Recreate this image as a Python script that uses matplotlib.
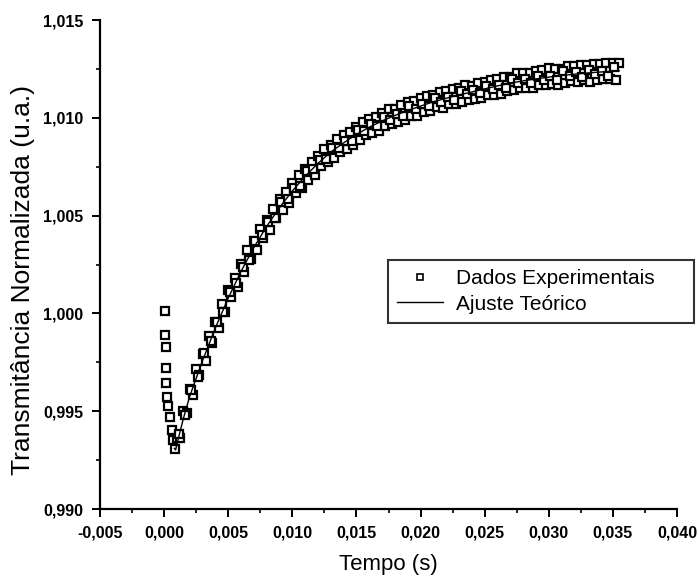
import numpy as np
import matplotlib
matplotlib.use("Agg")
import matplotlib.pyplot as plt
from matplotlib.ticker import MultipleLocator, FuncFormatter
from matplotlib.lines import Line2D

# Transiente de lente térmica: tempo em ms, transmitância normalizada
t_queda_ms = [0.08, 0.10, 0.12, 0.16, 0.18, 0.24, 0.32, 0.45, 0.60, 0.70, 0.85]
v_queda = [1.00010, 0.99890, 0.99830, 0.99720, 0.99645, 0.99575,
           0.99525, 0.99470, 0.99405, 0.99355, 0.99305]

t_subida_ms = [
    1.00, 1.25, 1.50, 1.75, 2.00, 2.25, 2.50, 2.75, 3.00, 3.25,
    3.50, 3.75, 4.00, 4.25, 4.50, 4.75, 5.00, 5.25, 5.50, 5.75,
    6.00, 6.25, 6.50, 6.75, 7.00, 7.25, 7.50, 7.75, 8.00, 8.25,
    8.50, 8.75, 9.00, 9.25, 9.50, 9.75, 10.00, 10.25, 10.50, 10.75,
    11.00, 11.25, 11.50, 11.75, 12.00, 12.25, 12.50, 12.75, 13.00, 13.25,
    13.50, 13.75, 14.00, 14.25, 14.50, 14.75, 15.00, 15.25, 15.50, 15.75,
    16.00, 16.25, 16.50, 16.75, 17.00, 17.25, 17.50, 17.75, 18.00, 18.25,
    18.50, 18.75, 19.00, 19.25, 19.50, 19.75, 20.00, 20.25, 20.50, 20.75,
    21.00, 21.25, 21.50, 21.75, 22.00, 22.25, 22.50, 22.75, 23.00, 23.25,
    23.50, 23.75, 24.00, 24.25, 24.50, 24.75, 25.00, 25.25, 25.50, 25.75,
    26.00, 26.25, 26.50, 26.75, 27.00, 27.25, 27.50, 27.75, 28.00, 28.25,
    28.50, 28.75, 29.00, 29.25, 29.50, 29.75, 30.00, 30.25, 30.50, 30.75,
    31.00, 31.25, 31.50, 31.75, 32.00, 32.25, 32.50, 32.75, 33.00, 33.25,
    33.50, 33.75, 34.00, 34.25, 34.50, 34.75, 35.00, 35.25, 35.50,
]
v_subida = [
    0.99362, 0.99365, 0.99502, 0.99492, 0.99612, 0.99585, 0.99717, 0.99686, 0.99794, 0.99757,
    0.99884, 0.99850, 0.99956, 0.99925, 1.00048, 1.00006, 1.00118, 1.00083, 1.00182, 1.00136,
    1.00255, 1.00211, 1.00322, 1.00277, 1.00372, 1.00324, 1.00431, 1.00383, 1.00475, 1.00424,
    1.00533, 1.00487, 1.00586, 1.00528, 1.00619, 1.00565, 1.00666, 1.00615, 1.00709, 1.00642,
    1.00736, 1.00683, 1.00774, 1.00706, 1.00807, 1.00752, 1.00841, 1.00776, 1.00860, 1.00797,
    1.00894, 1.00825, 1.00912, 1.00843, 1.00929, 1.00859, 1.00955, 1.00889, 1.00978, 1.00913,
    1.00992, 1.00920, 1.01003, 1.00931, 1.01024, 1.00956, 1.01043, 1.00970, 1.01047, 1.00978,
    1.01064, 1.00991, 1.01082, 1.01008, 1.01084, 1.01009, 1.01100, 1.01030, 1.01111, 1.01036,
    1.01117, 1.01056, 1.01131, 1.01050, 1.01135, 1.01069, 1.01148, 1.01073, 1.01152, 1.01081,
    1.01169, 1.01093, 1.01162, 1.01096, 1.01180, 1.01099, 1.01183, 1.01117, 1.01195, 1.01119,
    1.01198, 1.01121, 1.01210, 1.01138, 1.01207, 1.01140, 1.01228, 1.01151, 1.01229, 1.01151,
    1.01229, 1.01151, 1.01239, 1.01166, 1.01243, 1.01166, 1.01253, 1.01175, 1.01252, 1.01169,
    1.01251, 1.01178, 1.01264, 1.01186, 1.01263, 1.01184, 1.01271, 1.01192, 1.01269, 1.01185,
    1.01276, 1.01193, 1.01274, 1.01200, 1.01281, 1.01197, 1.01278, 1.01194, 1.01280,
]

# Leituras intermediárias (segunda varredura do osciloscópio)
t_meio_ms = [
    1.125, 1.625, 2.125, 2.625, 3.125, 3.625, 4.125, 4.625, 5.125, 5.625,
    6.125, 6.625, 7.125, 7.625, 8.125, 8.625, 9.125, 9.625, 10.125, 10.625,
    11.125, 11.625, 12.125, 12.625, 13.125, 13.625, 14.125, 14.625, 15.125, 15.625,
    16.125, 16.625, 17.125, 17.625, 18.125, 18.625, 19.125, 19.625, 20.125, 20.625,
    21.125, 21.625, 22.125, 22.625, 23.125, 23.625, 24.125, 24.625, 25.125, 25.625,
    26.125, 26.625, 27.125, 27.625, 28.125, 28.625, 29.125, 29.625, 30.125, 30.625,
    31.125, 31.625, 32.125, 32.625, 33.125, 33.625, 34.125, 34.625, 35.125,
]
v_meio = [
    0.99381, 0.99482, 0.99606, 0.99674, 0.99800, 0.99859, 0.99955, 1.00007, 1.00110, 1.00154,
    1.00235, 1.00272, 1.00370, 1.00399, 1.00467, 1.00490, 1.00567, 1.00584, 1.00640, 1.00653,
    1.00729, 1.00737, 1.00784, 1.00788, 1.00846, 1.00844, 1.00882, 1.00879, 1.00939, 1.00933,
    1.00966, 1.00957, 1.01002, 1.00991, 1.01020, 1.01007, 1.01060, 1.01046, 1.01072, 1.01058,
    1.01099, 1.01083, 1.01107, 1.01090, 1.01139, 1.01121, 1.01144, 1.01127, 1.01165, 1.01147,
    1.01169, 1.01151, 1.01198, 1.01179, 1.01200, 1.01180, 1.01215, 1.01194, 1.01214, 1.01193,
    1.01237, 1.01215, 1.01233, 1.01211, 1.01244, 1.01222, 1.01239, 1.01216, 1.01258,
]

# Curva do ajuste teórico
t_ajuste_ms = [0.8, 0.9, 1.0, 1.5, 2.0, 3.0, 4.0, 5.0, 6.0, 7.0, 8.0,
               9.0, 10.0, 11.0, 12.0, 13.0, 14.0, 15.0, 16.0, 17.0, 18.0, 19.0,
               20.0, 21.0, 22.0, 23.0, 24.0, 25.0, 26.0, 27.0, 28.0, 29.0, 30.0,
               31.0, 32.0, 33.0, 34.0, 35.0, 35.5]
v_ajuste = [0.99310, 0.99302, 0.99332, 0.99462, 0.99577,
            0.99759, 0.99926, 1.00078, 1.00215, 1.00337, 1.00445, 1.00541,
            1.00626, 1.00701, 1.00767, 1.00825, 1.00872, 1.00915, 1.00952,
            1.00984, 1.01012, 1.01037, 1.01060, 1.01082, 1.01100, 1.01117,
            1.01132, 1.01148, 1.01163, 1.01177, 1.01189, 1.01199, 1.01208,
            1.01216, 1.01223, 1.01229, 1.01234, 1.01238, 1.01240]

x_ticks = [-0.005, 0.000, 0.005, 0.010, 0.015, 0.020, 0.025, 0.030, 0.035, 0.040]
y_ticks = [0.990, 0.995, 1.000, 1.005, 1.010, 1.015]

tempo = np.array(t_queda_ms + t_subida_ms + t_meio_ms) * 1e-3
transm = np.array(v_queda + v_subida + v_meio)
tempo_aj = np.array(t_ajuste_ms) * 1e-3

fig = plt.figure(figsize=(6.99, 5.87), dpi=100)
ax = fig.add_axes([100 / 699, 1 - 509 / 587, 577 / 699, 489 / 587])

ax.plot(tempo, transm, ls="none", marker="s", ms=5.2, mfc="white",
        mec="black", mew=1.6, zorder=2)
ax.plot(tempo_aj, v_ajuste, color="black", lw=1.0, zorder=3)

ax.set_xlim(x_ticks[0], x_ticks[-1])
ax.set_ylim(y_ticks[0], y_ticks[-1])
ax.set_xticks(x_ticks)
ax.set_yticks(y_ticks)
ax.xaxis.set_minor_locator(MultipleLocator(0.0025))
ax.yaxis.set_minor_locator(MultipleLocator(0.0025))

virgula = FuncFormatter(lambda v, pos: f"{v:.3f}".replace(".", ",").replace("-0,000", "0,000"))
ax.xaxis.set_major_formatter(virgula)
ax.yaxis.set_major_formatter(virgula)

for lado in ("top", "right"):
    ax.spines[lado].set_visible(False)
for lado in ("left", "bottom"):
    ax.spines[lado].set_linewidth(1.6)

ax.tick_params(which="major", direction="out", length=6, width=1.4, pad=6)
ax.tick_params(which="minor", direction="out", length=3, width=1.2)
for rotulo in ax.get_xticklabels() + ax.get_yticklabels():
    rotulo.set_fontfamily(["Liberation Sans", "DejaVu Sans"])
    rotulo.set_fontweight("bold")
    rotulo.set_fontsize(11.5)

ax.set_xlabel("Tempo (s)", fontsize=16, family=["Liberation Sans", "DejaVu Sans"])
ax.set_ylabel("Transmitância Normalizada (u.a.)", fontsize=19,
              family=["Liberation Sans", "DejaVu Sans"])
ax.xaxis.set_label_coords(0.499, -0.092)
ax.yaxis.set_label_coords(-0.112, 0.468)

alca_dados = Line2D([], [], ls="none", marker="s", ms=4.6, mfc="white",
                    mec="black", mew=1.2)
alca_ajuste = Line2D([], [], color="black", lw=1.0)
leg = fig.legend([alca_dados, alca_ajuste], ["Dados Experimentais", "Ajuste Teórico"],
                 loc="upper left", bbox_to_anchor=(388 / 699, 1 - 340 / 587, 306 / 699, 80 / 587),
                 mode="expand", frameon=True, fancybox=False, edgecolor="black",
                 prop={"family": ["Liberation Sans", "DejaVu Sans"], "size": 15},
                 handlelength=2.2, handletextpad=0.6, labelspacing=0.3,
                 borderpad=0.45, borderaxespad=0)
leg.get_frame().set_linewidth(1.5)

fig.savefig("out.png", dpi=100)
